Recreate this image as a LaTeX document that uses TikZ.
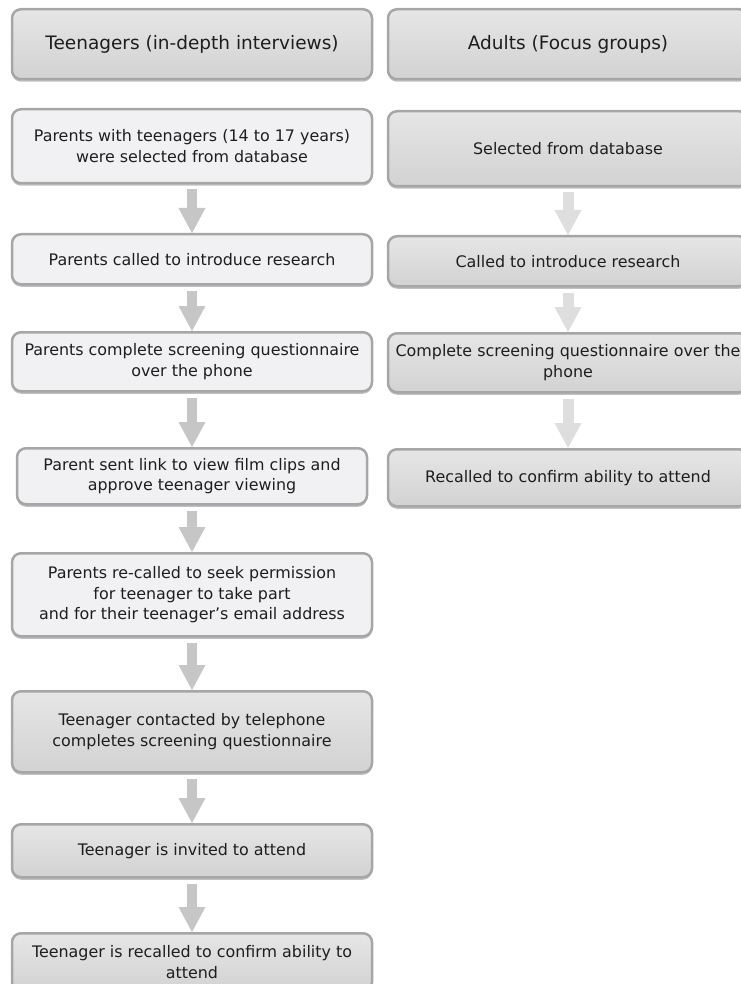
\documentclass[tikz,border=0pt]{standalone}
\usepackage{fontspec}
\setmainfont{DejaVu Sans}
\usetikzlibrary{arrows.meta, shadows}
\definecolor{boxline}{HTML}{A6A6A6}
\definecolor{boxlight}{HTML}{F1F1F3}
\definecolor{boxtop}{HTML}{E6E6E6}
\definecolor{boxbot}{HTML}{D2D2D2}
\definecolor{txtdark}{HTML}{1E1E1E}
\definecolor{arrowgray}{HTML}{C6C6C6}
\definecolor{arrowpale}{HTML}{DEDEDE}

\begin{document}
\begin{tikzpicture}[
    x=1pt, y=-1pt,
    stagebox/.style={draw=boxline, line width=2.5pt, rounded corners=9pt,
        anchor=north, minimum width=360pt, align=center, text=txtdark,
        font=\fontsize{15.9}{20.5}\selectfont, inner sep=0pt,
        drop shadow={shadow xshift=0pt, shadow yshift=-2.5pt, fill=boxline, opacity=0.7}},
    lightbox/.style={stagebox, fill=boxlight},
    greybox/.style={stagebox, top color=boxtop, bottom color=boxbot},
    headbox/.style={greybox, font=\fontsize{18.5}{22}\selectfont},
    flow/.style={line width=10pt, arrowgray, shorten <=5pt,
        -{Triangle[width=27pt, length=25pt, line width=0pt]}},
    paleflow/.style={flow, arrowpale, line width=11pt}
]
\useasboundingbox (0,0) rectangle (740,984);

% Column headers
\node[headbox, minimum height=70pt] (teenhead) at (192,8) {Teenagers (in-depth interviews)};
\node[headbox, minimum height=70pt] (adulthead) at (568,8) {Adults (Focus groups)};

% Teenagers column
\node[lightbox, minimum height=74pt] (t1) at (192,108)
    {Parents with teenagers (14 to 17 years)\\were selected from database};
\node[lightbox, minimum height=50pt] (t2) at (192,233)
    {Parents called to introduce research};
\node[lightbox, minimum height=59pt] (t3) at (192,331)
    {Parents complete screening questionnaire\\over the phone};
\node[lightbox, minimum width=350pt, minimum height=56pt] (t4) at (192,447)
    {Parent sent link to view film clips and\\approve teenager viewing};
\node[lightbox, minimum height=83pt] (t5) at (192,552)
    {Parents re-called to seek permission\\for teenager to take part\\and for their teenager’s email address};
\node[greybox, minimum height=81pt] (t6) at (192,690)
    {Teenager contacted by telephone\\completes screening questionnaire};
\node[greybox, minimum height=53pt] (t7) at (192,823)
    {Teenager is invited to attend};
\node[greybox, minimum height=58pt] (t8) at (192,932)
    {Teenager is recalled to confirm ability to\\attend};

\foreach \a/\b in {t1/t2, t2/t3, t3/t4, t4/t5, t5/t6, t6/t7, t7/t8}
    \draw[flow] (\a.south) -- (\b.north);

% Adults column
\node[greybox, minimum height=75pt] (a1) at (568,110) {Selected from database};
\node[greybox, minimum height=50pt] (a2) at (568,235) {Called to introduce research};
\node[greybox, minimum height=59pt] (a3) at (568,332)
    {Complete screening questionnaire over the\\phone};
\node[greybox, minimum height=57pt] (a4) at (568,448)
    {Recalled to confirm ability to attend};

\foreach \a/\b in {a1/a2, a2/a3, a3/a4}
    \draw[paleflow] (\a.south) -- (\b.north);

\end{tikzpicture}
\end{document}
